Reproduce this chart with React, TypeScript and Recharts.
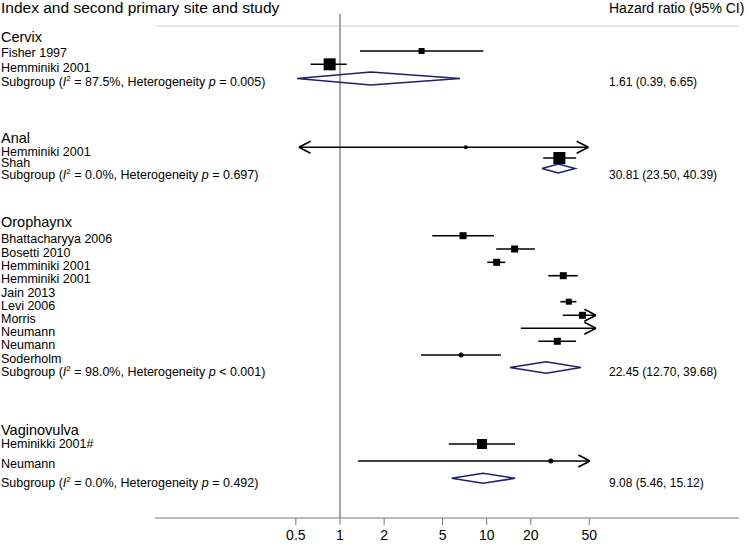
import { ScatterChart, Scatter, XAxis, YAxis, ReferenceLine } from 'recharts';

// ---- data ----
const SECTIONS = ['Cervix', 'Anal', 'Orophaynx', 'Vaginovulva'];

const STUDY_NAMES = [
  'Fisher 1997', 'Hemminiki 2001',
  'Hemminiki 2001', 'Shah',
  'Bhattacharyya 2006', 'Bosetti 2010', 'Hemminiki 2001', 'Hemminiki 2001', 'Jain 2013',
  'Levi 2006', 'Morris', 'Neumann', 'Neumann', 'Soderholm',
  'Heminikki 2001#', 'Neumann',
];
const STUDY_HR = [3.6, 0.85, 7.2, 31.3, 6.9, 15.5, 11.7, 33.3, null, 36.3, 45, null, 30.3, 6.7, 9.3, 27.4];
const STUDY_LO = [1.37, 0.63, 0.525, 24.3, 4.25, 11.6, 10.1, 26.3, null, 31.8, 33, 17.1, 22.5, 3.57, 5.52, 1.33];
const STUDY_HI = [9.5, 1.11, 49.3, 40.7, 11.2, 21.3, 13.4, 41.8, null, 40.9, 55.6, 55.6, 40.7, 12.5, 15.6, 50.6];
// CI runs past the plotted range at that end -> arrow
const ARROW_LO = [false, false, true, false, false, false, false, false, false, false, false, false, false, false, false, false];
const ARROW_HI = [false, false, true, false, false, false, false, false, false, false, true, true, false, false, false, true];

const POOLED_HR = [1.61, 30.81, 22.45, 9.08];
const POOLED_LO = [0.39, 23.5, 12.7, 5.46];
const POOLED_HI = [6.65, 40.39, 39.68, 15.12];
const POOLED_I2 = ['87.5', '0.0', '98.0', '0.0'];
const POOLED_P = ['= 0.005', '= 0.697', '< 0.001', '= 0.492'];
// diamonds as they are drawn in the figure
const DIAMOND_LO = [0.51, 23.8, 14.4, 5.77];
const DIAMOND_MID = [1.62, 30.8, 25.4, 9.44];
const DIAMOND_HI = [6.58, 40.0, 43.9, 15.6];

const X_TICKS = [0.5, 1, 2, 5, 10, 20, 50];

// ---- layout ----
const FONT = '"Liberation Sans", Arial, Helvetica, sans-serif';
const NAVY = '#1d2070';
const X_MIN = 0.0548;
const X_MAX = 525;
const PLOT_BOTTOM = 518;
const HEADER_Y = 13;
const HR_TEXT_X = 609;

const STUDY_Y = [51, 64.3, 147.3, 158, 235.7, 249, 262.3, 275.7, 289, 301.7, 315.3, 328.3, 341.3, 355, 444, 461];
const STUDY_TEXT_Y = [57.3, 72, 155.5, 167, 243.3, 256.7, 270, 283.3, 296.7, 310, 322.7, 336, 349.3, 362.7, 448.3, 468.3];
const SECTION_TEXT_Y = [41.7, 143.3, 226.5, 435];
const POOLED_Y = [78.5, 168.5, 367.5, 478.3];
const POOLED_TEXT_Y = [86, 178.5, 375.5, 486.5];
const DIAMOND_HALF = [6.5, 4.5, 5.8, 5];
const BOX = [6, 12, 0, 12, 7, 7, 7, 7, 0, 6, 7, 0, 7, 0, 10, 0];
const DOT = [0, 0, 4, 0, 0, 0, 0, 0, 0, 0, 0, 0, 0, 5, 0, 5];
const ARROW_RATIO = 1.2;
const ARROW_HALF = 6;

type TextRow = { y: number; kind: 'header' | 'section' | 'study' | 'pooled'; i: number };
const TEXT_ROWS: TextRow[] = [
  { y: HEADER_Y, kind: 'header', i: 0 },
  ...SECTIONS.map((_, i) => ({ y: SECTION_TEXT_Y[i], kind: 'section' as const, i })),
  ...STUDY_NAMES.map((_, i) => ({ y: STUDY_TEXT_Y[i], kind: 'study' as const, i })),
  ...POOLED_HR.map((_, i) => ({ y: POOLED_TEXT_Y[i], kind: 'pooled' as const, i })),
];

const marks = STUDY_HR.map((hr, i) => ({ x: hr, y: STUDY_Y[i], box: BOX[i], dot: DOT[i] }))
  .filter((m) => m.x != null && (m.box > 0 || m.dot > 0));

const diamonds = POOLED_HR.map((_, i) => [
  { x: DIAMOND_LO[i], y: POOLED_Y[i] },
  { x: DIAMOND_MID[i], y: POOLED_Y[i] - DIAMOND_HALF[i] },
  { x: DIAMOND_HI[i], y: POOLED_Y[i] },
  { x: DIAMOND_MID[i], y: POOLED_Y[i] + DIAMOND_HALF[i] },
  { x: DIAMOND_LO[i], y: POOLED_Y[i] },
]);

const fmt = (v: number) => v.toFixed(2);

function RowTick(props: any) {
  const { y, payload } = props;
  let row = TEXT_ROWS[0];
  for (const r of TEXT_ROWS) if (Math.abs(r.y - payload.value) < Math.abs(row.y - payload.value)) row = r;
  if (row.kind === 'header') {
    return (
      <g>
        <text x={1} y={y} fontSize={15.5} fill="#000">Index and second primary site and study</text>
        <text x={HR_TEXT_X} y={y} fontSize={14} fill="#000">Hazard ratio (95% CI)</text>
      </g>
    );
  }
  if (row.kind === 'section') {
    return <text x={1} y={y} fontSize={14.5} fill="#000">{SECTIONS[row.i]}</text>;
  }
  if (row.kind === 'study') {
    return <text x={1} y={y} fontSize={12.5} fill="#000">{STUDY_NAMES[row.i]}</text>;
  }
  const i = row.i;
  return (
    <g>
      <text x={1} y={y} fontSize={12.5} fill="#000">
        Subgroup (<tspan fontStyle="italic">I</tspan>
        <tspan fontSize={8} dy={-5}>2</tspan>
        <tspan dy={5}>{` = ${POOLED_I2[i]}%, Heterogeneity `}</tspan>
        <tspan fontStyle="italic">p</tspan>
        <tspan>{` ${POOLED_P[i]})`}</tspan>
      </text>
      <text x={HR_TEXT_X} y={y} fontSize={12} fill="#000">
        {`${fmt(POOLED_HR[i])} (${fmt(POOLED_LO[i])}, ${fmt(POOLED_HI[i])})`}
      </text>
    </g>
  );
}

function MarkShape(props: any) {
  const { cx, cy, payload } = props;
  if (payload.box > 0) {
    const s = payload.box;
    return <rect x={cx - s / 2} y={cy - s / 2} width={s} height={s} fill="#000" />;
  }
  return <circle cx={cx} cy={cy} r={payload.dot / 2} fill="#000" />;
}

const NoShape = () => <g />;

export default function App() {
  const ciLines: any[] = [];
  STUDY_LO.forEach((lo, i) => {
    const hi = STUDY_HI[i];
    if (lo == null || hi == null) return;
    const y = STUDY_Y[i];
    ciLines.push(
      <ReferenceLine key={`ci${i}`} segment={[{ x: lo, y }, { x: hi, y }]} stroke="#000" strokeWidth={1.6} ifOverflow="visible" />
    );
    if (ARROW_HI[i]) {
      ciLines.push(
        <ReferenceLine key={`ah1${i}`} segment={[{ x: hi / ARROW_RATIO, y: y - ARROW_HALF }, { x: hi, y }]} stroke="#000" strokeWidth={1.6} ifOverflow="visible" />,
        <ReferenceLine key={`ah2${i}`} segment={[{ x: hi / ARROW_RATIO, y: y + ARROW_HALF }, { x: hi, y }]} stroke="#000" strokeWidth={1.6} ifOverflow="visible" />
      );
    }
    if (ARROW_LO[i]) {
      ciLines.push(
        <ReferenceLine key={`al1${i}`} segment={[{ x: lo * ARROW_RATIO, y: y - ARROW_HALF }, { x: lo, y }]} stroke="#000" strokeWidth={1.6} ifOverflow="visible" />,
        <ReferenceLine key={`al2${i}`} segment={[{ x: lo * ARROW_RATIO, y: y + ARROW_HALF }, { x: lo, y }]} stroke="#000" strokeWidth={1.6} ifOverflow="visible" />
      );
    }
  });

  return (
    <div style={{ position: 'absolute', left: 0, top: 0, width: 749, height: 544, background: '#fff', fontFamily: FONT }}>
      <ScatterChart width={749} height={544} margin={{ top: 0, right: 10, bottom: 0, left: 0 }}>
        <XAxis
          type="number"
          dataKey="x"
          scale="log"
          domain={[X_MIN, X_MAX]}
          allowDataOverflow
          ticks={X_TICKS}
          interval={0}
          tickFormatter={(v: number) => String(v)}
          stroke="#777"
          tick={{ fill: '#000', fontSize: 14 }}
          tickSize={7}
          tickMargin={5}
          height={26}
        />
        <YAxis
          type="number"
          dataKey="y"
          domain={[0, PLOT_BOTTOM]}
          reversed
          allowDataOverflow
          width={155}
          ticks={TEXT_ROWS.map((r) => r.y)}
          interval={0}
          tick={<RowTick />}
          axisLine={false}
          tickLine={false}
        />
        <ReferenceLine segment={[{ x: X_MIN, y: 26 }, { x: X_MAX, y: 26 }]} stroke="#cfcfcf" strokeWidth={1} ifOverflow="visible" />
        <ReferenceLine segment={[{ x: 1, y: 14 }, { x: 1, y: PLOT_BOTTOM }]} stroke="#8a8a8a" strokeWidth={1.5} ifOverflow="visible" />
        {ciLines}
        {diamonds.map((pts, i) => (
          <Scatter
            key={`d${i}`}
            data={pts}
            line={{ stroke: NAVY, strokeWidth: 1.6, fill: 'none' }}
            lineType="joint"
            shape={NoShape}
            isAnimationActive={false}
          />
        ))}
        <Scatter data={marks} shape={MarkShape} isAnimationActive={false} />
      </ScatterChart>
    </div>
  );
}
